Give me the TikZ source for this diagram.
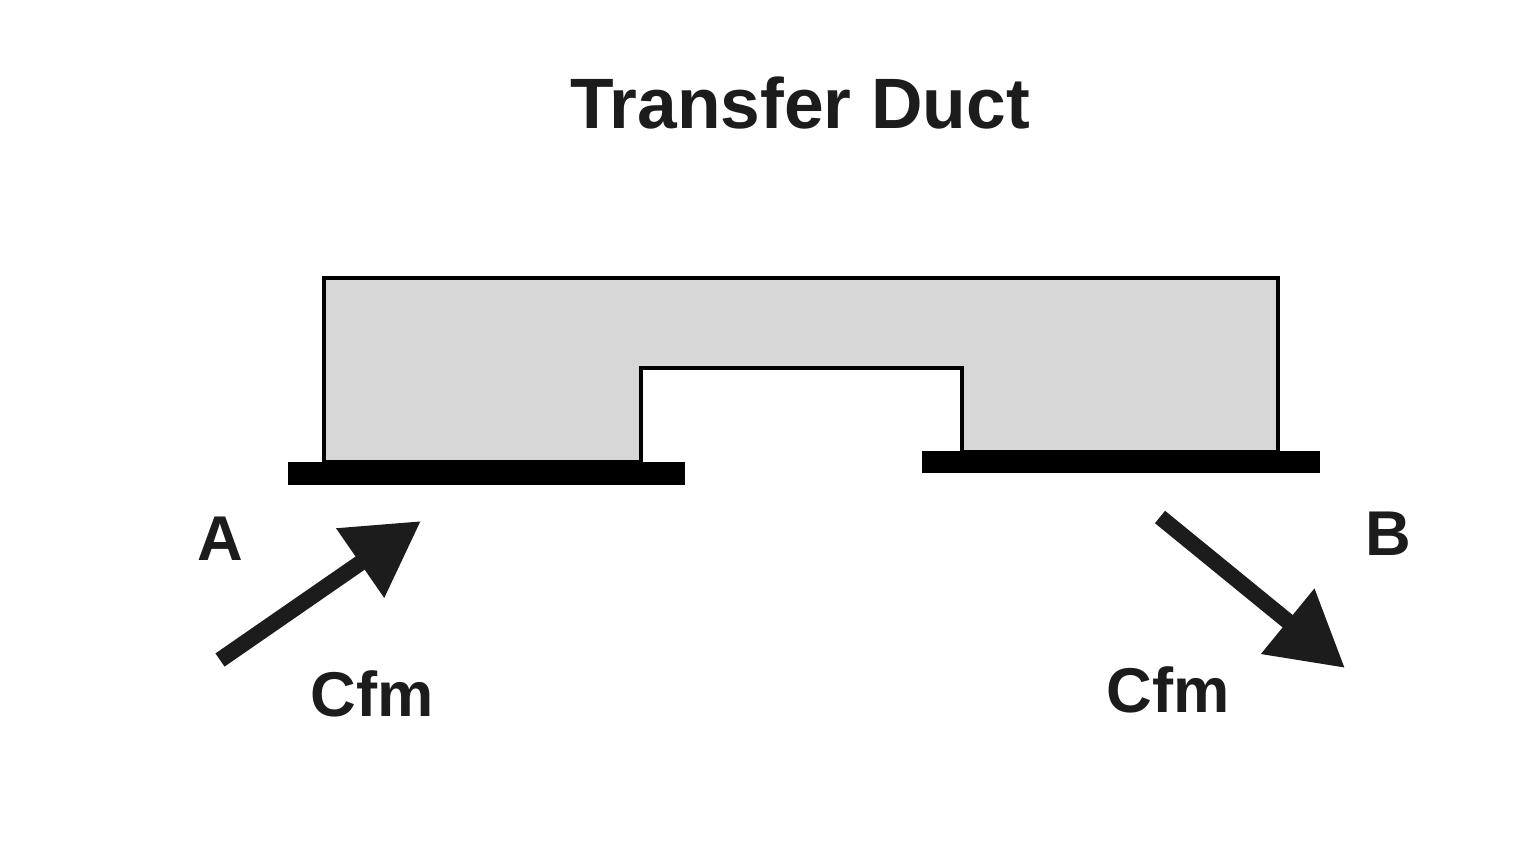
\documentclass[tikz,border=0pt]{standalone}
\usepackage{fontspec}
\setmainfont{Liberation Sans}
\usetikzlibrary{arrows.meta}
\definecolor{ductgray}{RGB}{215,215,215}
\definecolor{ink}{RGB}{28,28,28}
\tikzset{
  lbl/.style={font=\fontsize{18}{20}\selectfont\bfseries, text=ink, inner sep=0pt, anchor=base},
  flow/.style={ink, line width=1.6mm, -{Triangle[length=7.4mm,width=8mm]}},
  plate/.style={fill=black, draw=none}
}
\begin{document}
\begin{tikzpicture}
        \useasboundingbox[fill=white] (0,0) rectangle (15.29,-8.43);

        \node[lbl, font=\fontsize{20.3}{24}\selectfont\bfseries] (title) at (8.0,-1.28) {Transfer Duct};

        % duct body
        \draw[fill=ductgray, line width=1.1pt] (3.24,-4.62) -- (3.24,-2.78) -- (12.78,-2.78) -- (12.78,-4.52)
            -- (9.62,-4.52) -- (9.62,-3.68) -- (6.41,-3.68) -- (6.41,-4.62) -- cycle;
        \fill[plate] (2.88,-4.62) rectangle (6.85,-4.85);
        \fill[plate] (9.22,-4.51) rectangle (13.20,-4.73);

        \node[lbl] (A) at (2.20,-5.60) {A};
        \node[lbl] (B) at (13.88,-5.55) {B};
        \node[lbl] (cfmA) at (3.72,-7.16) {Cfm};
        \node[lbl] (cfmB) at (11.68,-7.12) {Cfm};

        \coordinate (inTail) at (2.20,-6.60);
        \coordinate (inTip) at (4.21,-5.21);
        \coordinate (outTail) at (11.60,-5.17);
        \coordinate (outTip) at (13.45,-6.68);
        \draw[flow] (inTail) -- (inTip);
        \draw[flow] (outTail) -- (outTip);
    \end{tikzpicture}
\end{document}
